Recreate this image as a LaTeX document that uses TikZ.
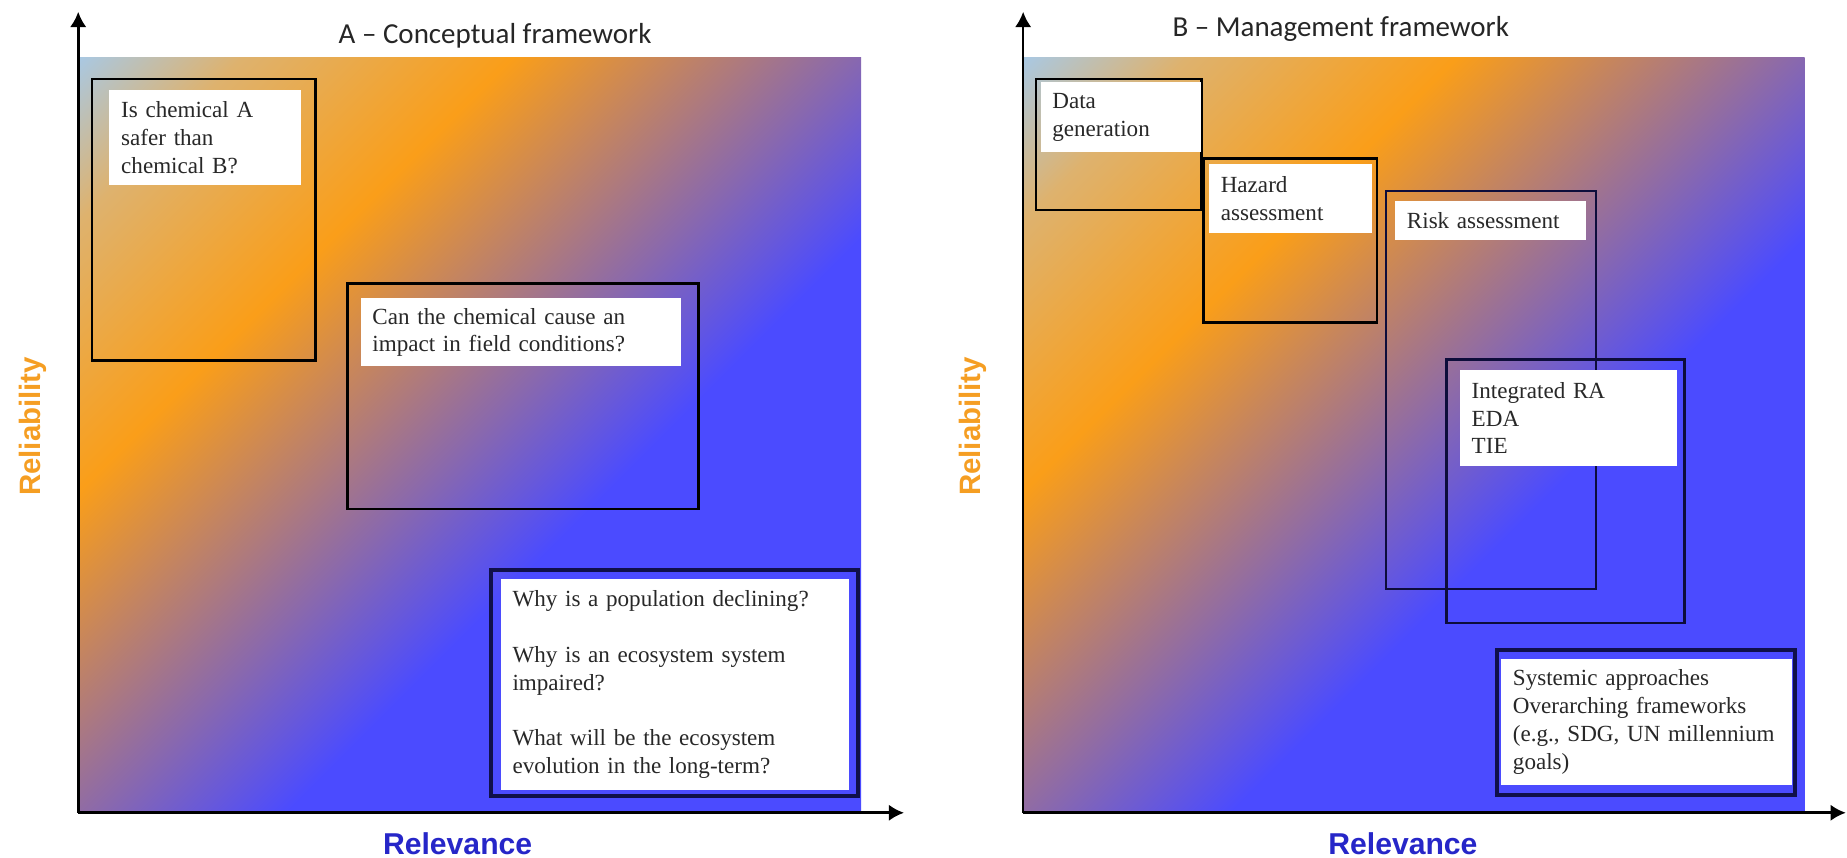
\documentclass[tikz,border=0pt]{standalone}
\usepackage{fontspec}
\setmainfont{Liberation Serif}
\newfontfamily\titlefont[Ligatures=TeX]{Carlito}
\newfontfamily\axisfont{Liberation Sans}
\usetikzlibrary{arrows.meta}
\definecolor{gtl}{RGB}{170,200,225}
\definecolor{gtan}{RGB}{222,178,110}
\definecolor{gor}{RGB}{250,158,25}
\definecolor{gbl}{RGB}{75,75,255}
\definecolor{relorange}{RGB}{245,158,35}
\definecolor{relblue}{RGB}{38,38,200}
\definecolor{navy}{RGB}{16,16,74}
\definecolor{txt}{RGB}{40,40,40}
\definecolor{ttl}{RGB}{38,38,38}
\pgfdeclarehorizontalshading{relgrad}{100bp}{color(0bp)=(gtl); color(14.6bp)=(gtl); color(22bp)=(gtan); color(34.5bp)=(gor); color(59bp)=(gbl); color(100bp)=(gbl)}
\begin{document}
\begin{tikzpicture}[x=0.5pt,y=-0.5pt,
  field/.style={shading=relgrad, shading angle=-45},
  axisline/.style={line width=1.1pt, -{Latex[length=6.5pt,width=7pt]}},
  frame/.style={draw=black, line width=1.1pt},
  bigframe/.style={draw=navy, line width=1.7pt},
  lab/.style={fill=white, anchor=north west, inner xsep=5pt, inner ysep=0pt, align=left, text=txt,
    font=\fontsize{9.8pt}{11.8pt}\selectfont},
  paneltitle/.style={anchor=base, text=ttl, font=\titlefont\fontsize{12.3pt}{14pt}\selectfont, inner sep=0pt},
  ylab/.style={rotate=90, text=relorange, font=\axisfont\bfseries\fontsize{12.5pt}{14pt}\selectfont, inner sep=0pt},
  xlab/.style={text=relblue, font=\axisfont\bfseries\fontsize{12.8pt}{14pt}\selectfont, inner sep=0pt}]
\useasboundingbox (0,0) rectangle (1568,728);

% ---------- Panel A ----------
\shade[field] (66.4,48.7) rectangle (731,690);
\coordinate (oA) at (66.4,690);
\coordinate (yA) at (66.4,10);
\coordinate (xA) at (767.5,690);
\draw[axisline] (oA) -- (yA);
\draw[axisline] (oA) -- (xA);
\node[paneltitle] (tA) at (420.3,36.8) {A \textendash{} Conceptual framework};
\node[ylab] (relA) at (27.5,362) {Reliability};
\node[xlab] (rvA) at (388.5,716) {Relevance};

\draw[frame] (78,67) rectangle (268,306);
\draw[frame] (294.8,240.6) rectangle (593,432);
\draw[bigframe] (417,484) rectangle (728,676);

\node[lab, text width=71.25pt, minimum height=40.5pt] (qA1) at (92.5,76)
  {Is chemical A\\safer than\\chemical B?};
\node[lab, text width=126pt, minimum height=28.75pt] (qA2) at (305.8,253)
  {Can the chemical cause an\\impact in field conditions?};
\node[lab, text width=138pt, minimum height=89.8pt] (qA3) at (424.7,491)
  {Why is a population declining?\\[11.8pt]Why is an ecosystem system\\impaired?\\[11.8pt]What will be the ecosystem\\evolution in the long-term?};

% ---------- Panel B ----------
\shade[field] (868.6,48.7) rectangle (1532,690);
\coordinate (oB) at (868.6,690);
\coordinate (yB) at (868.6,10);
\coordinate (xB) at (1567,690);
\draw[axisline] (oB) -- (yB);
\draw[axisline] (oB) -- (xB);
\node[paneltitle] (tB) at (1138.2,31) {B \textendash{} Management framework};
\node[ylab] (relB) at (825.6,362) {Reliability};
\node[xlab] (rvB) at (1191,716) {Relevance};

\draw[frame] (879.6,67) rectangle (1020,178.3);
\draw[frame] (1021.7,134.4) rectangle (1169,273.6);
\draw[frame, draw=navy!80!black] (1176.6,162) rectangle (1355,500);
\draw[frame, draw=navy!80!black] (1228,305) rectangle (1430,529);
\draw[bigframe] (1270.5,551.8) rectangle (1523.8,675);

\node[lab, text width=58pt, minimum height=30pt] (mB1) at (883,69)
  {Data\\generation};
\node[lab, text width=59pt, minimum height=29pt] (mB2) at (1026,139)
  {Hazard\\assessment};
\node[lab, text width=71pt, minimum height=16.5pt] (mB3) at (1184,170)
  {Risk assessment};
\node[lab, text width=82pt, minimum height=40.5pt] (mB4) at (1239,314)
  {Integrated RA\\EDA\\TIE};
\node[lab, text width=113.5pt, minimum height=53.7pt] (mB5) at (1274,558.7)
  {Systemic approaches\\Overarching frameworks\\(e.g., SDG, UN millennium\\goals)};
\end{tikzpicture}
\end{document}
